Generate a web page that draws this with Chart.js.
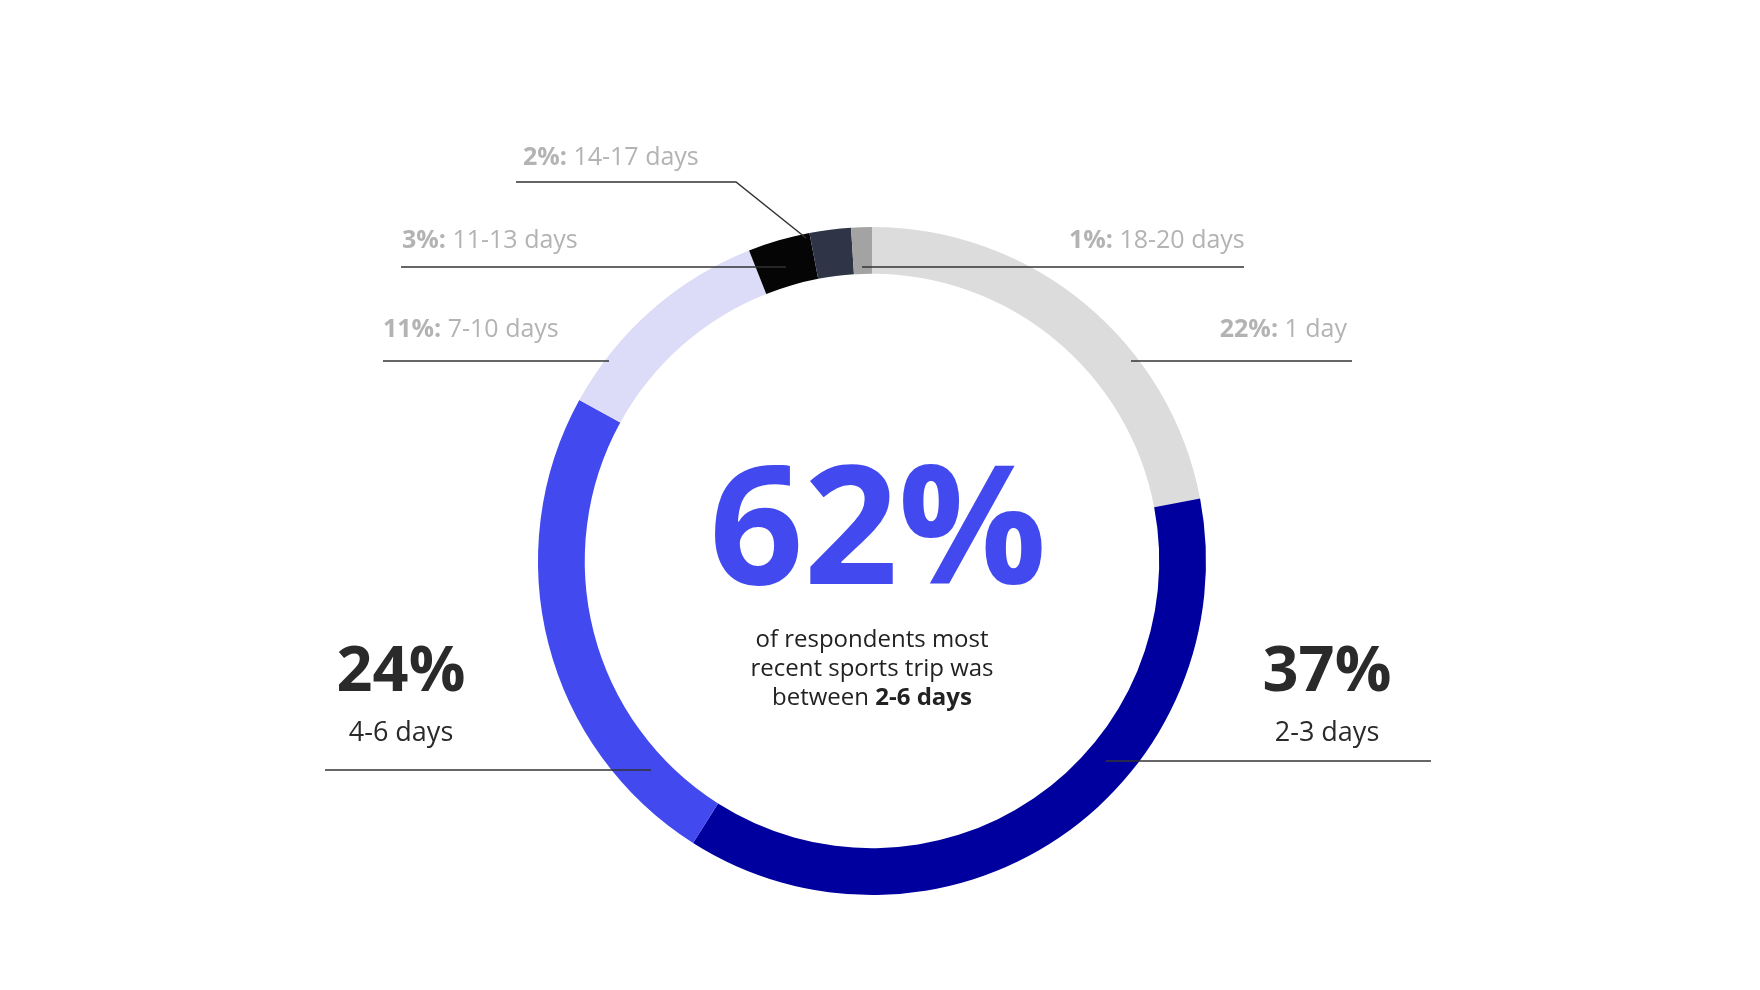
<!DOCTYPE html>
<html><head><meta charset="utf-8">
<script src="https://cdn.jsdelivr.net/npm/chart.js"></script>
<style>html,body{margin:0;background:#fff}#w{width:1760px;height:990px}</style>
</head><body><div id="w"><canvas id="c"></canvas></div>
<script>
const categories = ["1 day","2-3 days","4-6 days","7-10 days","11-13 days","14-17 days","18-20 days"];
const values = [22,37,24,11,3,2,1];
const colors = ["#dcdcdc","#00009e","#4249ee","#dcdcf8","#050505","#2f3447","#a3a3a3"];
const F = '"Open Sans", sans-serif';

const labels = {
  id:'labels',
  afterDraw(chart){
    const c = chart.ctx;
    c.save();
    c.strokeStyle = '#333'; c.lineWidth = 1.5;
    const line = pts => {c.beginPath(); c.moveTo(pts[0][0],pts[0][1]); for(const p of pts.slice(1)) c.lineTo(p[0],p[1]); c.stroke();};
    line([[516,182],[736,182],[806,238]]);
    line([[401,267],[786,267]]);
    line([[383,361],[609,361]]);
    line([[862,267],[1244,267]]);
    line([[1131,361],[1352,361]]);
    line([[325,770],[651,770]]);
    line([[1106,761],[1431,761]]);
    c.textBaseline = 'middle';
    const small = (pct, txt, x, y, align) => {
      c.font = `700 25px ${F}`; const w1 = c.measureText(pct).width;
      c.font = `400 25px ${F}`; const w2 = c.measureText(txt).width;
      let sx = align==='right' ? x - w1 - w2 : x;
      c.fillStyle = '#b3b3b3'; c.textAlign='left';
      c.font = `700 25px ${F}`; c.fillText(pct, sx, y);
      c.font = `400 25px ${F}`; c.fillText(txt, sx + w1, y);
    };
    small(values[5]+'%: ', categories[5], 523, 158);
    small(values[4]+'%: ', categories[4], 402, 241);
    small(values[3]+'%: ', categories[3], 383, 330);
    small(values[6]+'%: ', categories[6], 1069, 241);
    small(values[0]+'%: ', categories[0], 1347, 330, 'right');
    c.textAlign='center'; c.fillStyle='#2a2a2a';
    c.font = `700 63px ${F}`;
    c.fillText(values[2]+'%', 401, 673); c.fillText(values[1]+'%', 1327, 673);
    c.font = `400 27px ${F}`;
    c.fillText(categories[2], 401, 733); c.fillText(categories[1], 1327, 733);
    c.fillStyle='#4249ee'; c.font = `700 165px ${F}`;
    c.fillText('62%', 878, 537);
    c.fillStyle='#222'; c.font = `400 24px ${F}`;
    c.fillText('of respondents most', 872, 640);
    c.fillText('recent sports trip was', 872, 669);
    c.font = `400 24px ${F}`; const a='between ', b='2-6 days';
    const wa=c.measureText(a).width; c.font=`700 24px ${F}`; const wb=c.measureText(b).width;
    const sx=872-(wa+wb)/2; c.textAlign='left';
    c.font=`400 24px ${F}`; c.fillText(a,sx,698); c.font=`700 24px ${F}`; c.fillText(b,sx+wa,698);
    c.restore();
  }
};

new Chart(document.getElementById('c'), {
  type:'doughnut',
  data:{labels:categories, datasets:[{data:values, backgroundColor:colors, borderWidth:0}]},
  options:{responsive:true, maintainAspectRatio:false, animation:false, cutout:'86%',
    layout:{padding:{top:227,bottom:95,left:538,right:554}},
    plugins:{legend:{display:false},tooltip:{enabled:false}}},
  plugins:[labels]
});
</script></body></html>
